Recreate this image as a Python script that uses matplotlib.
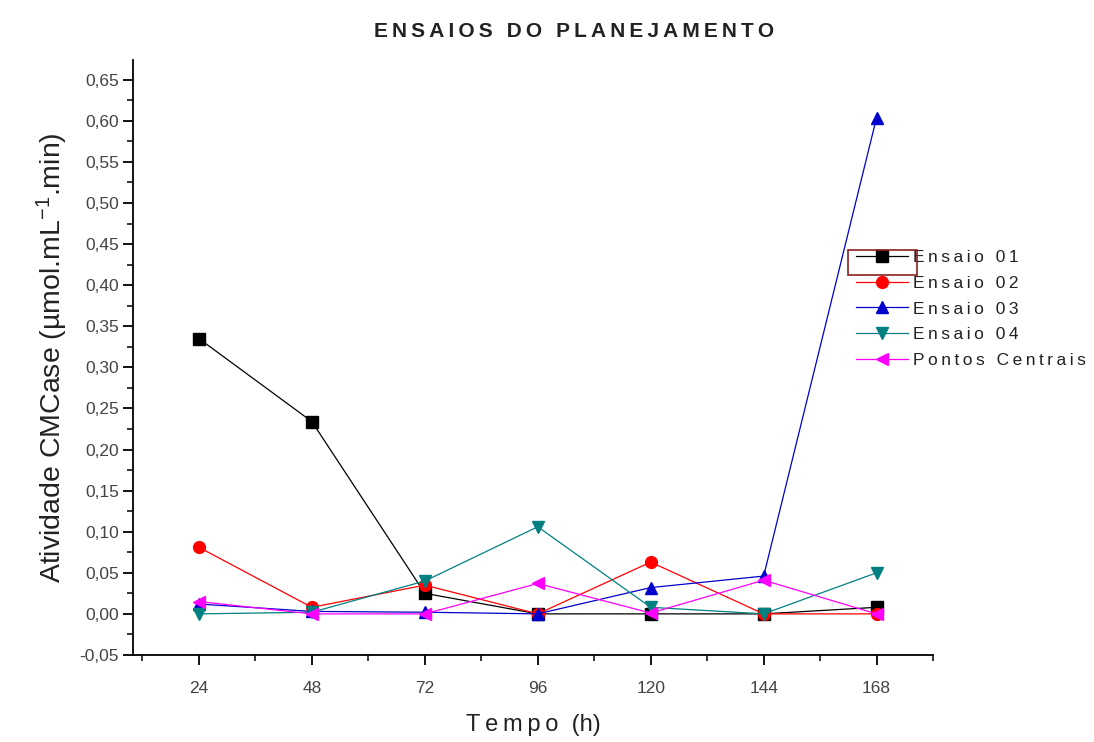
import numpy as np
import matplotlib
matplotlib.use('Agg')
import matplotlib.pyplot as plt
from matplotlib.ticker import MultipleLocator, FuncFormatter
from matplotlib.patches import Rectangle

plt.rcParams['font.family'] = ['Liberation Sans', 'DejaVu Sans']
plt.rcParams['mathtext.default'] = 'regular'

# tempo de cultivo (h)
tempo = [24, 48, 72, 96, 120, 144, 168]

# atividade CMCase de cada ensaio
ensaio_01 = [0.335, 0.234, 0.025, 0.000, 0.000, 0.000, 0.008]
ensaio_02 = [0.081, 0.008, 0.035, 0.000, 0.063, 0.000, 0.000]
ensaio_03 = [0.012, 0.003, 0.002, 0.000, 0.032, 0.046, 0.604]
ensaio_04 = [0.000, 0.002, 0.040, 0.106, 0.008, 0.000, 0.050]
pontos_centrais = [0.015, 0.000, 0.000, 0.037, 0.001, 0.041, 0.000]

series = [
    ('Ensaio 01', ensaio_01, '#000000', 's', 9),
    ('Ensaio 02', ensaio_02, '#ff0000', 'o', 8.5),
    ('Ensaio 03', ensaio_03, '#0000cc', '^', 9),
    ('Ensaio 04', ensaio_04, '#008080', 'v', 9),
    ('Pontos Centrais', pontos_centrais, '#ff00ff', '<', 9),
]


def espacado(s):
    # texto com espaçamento entre letras
    return '\u2009'.join(s)


fig = plt.figure(figsize=(10.94, 7.42), dpi=100)
ax = fig.add_axes([0.1216, 0.1173, 0.7313, 0.8018])

for nome, vals, cor, mk, ms in series:
    ax.plot(tempo, vals, color=cor, lw=0.9, marker=mk, markersize=ms,
            markeredgecolor=cor, markerfacecolor=cor, label=espacado(nome))

ax.set_xlim(10, 180)
ax.set_ylim(-0.05, 0.674)
ax.set_xticks(tempo)
ax.xaxis.set_minor_locator(MultipleLocator(12))
ax.yaxis.set_major_locator(MultipleLocator(0.05))
ax.yaxis.set_minor_locator(MultipleLocator(0.025))
ax.yaxis.set_major_formatter(FuncFormatter(lambda v, p: f'{v:.2f}'.replace('.', ',').replace('-0,00', '0,00')))

for s in ['top', 'right']:
    ax.spines[s].set_visible(False)
for s in ['left', 'bottom']:
    ax.spines[s].set_linewidth(1.3)

ax.tick_params(which='major', direction='out', length=7, width=1.3, labelsize=12.5,
               labelcolor='#444444')
ax.tick_params(axis='y', which='major', pad=3)
ax.tick_params(axis='x', which='major', pad=12)
ax.tick_params(which='minor', direction='out', length=4, width=1.1)

ax.set_xlabel(espacado('Tempo') + '  (h)', fontsize=17, color='#222222', labelpad=13)
ax.set_ylabel('Atividade CMCase (\u00b5mol.mL$^{-1}$.min)', fontsize=20.5,
              color='#222222', labelpad=7)
fig.text(0.525, 0.958, espacado('ENSAIOS DO PLANEJAMENTO'), ha='center', va='center',
         fontsize=15, fontweight='bold', color='#222222')

leg = ax.legend(loc='upper left', bbox_to_anchor=(0.8955, 0.692), frameon=False,
                fontsize=12.5, handlelength=3.0, handletextpad=0.25,
                labelspacing=0.6, borderaxespad=0)
for t in leg.get_texts():
    t.set_color('#222222')

# caixa em volta do primeiro item da legenda
fig.canvas.draw()
r = fig.canvas.get_renderer()
bb = leg.legend_handles[0].get_window_extent(r)
fw, fh = fig.get_size_inches() * fig.dpi
fig.patches.append(Rectangle(((bb.x0 - 2) / fw, (bb.y0 - 12) / fh),
                             (bb.width + 4) / fw, 25 / fh,
                             transform=fig.transFigure, fill=False,
                             edgecolor='#8b2020', lw=1.2))

fig.savefig('out.png', dpi=100)
